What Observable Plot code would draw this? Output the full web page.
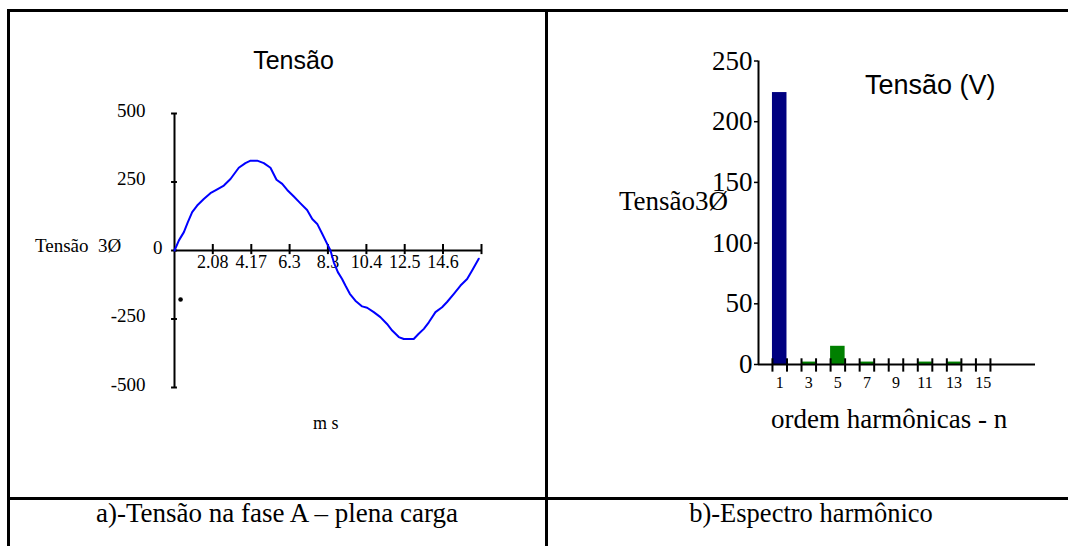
<!DOCTYPE html>
<html><head><meta charset="utf-8">
<script src="https://cdn.jsdelivr.net/npm/d3@7"></script>
<script src="https://cdn.jsdelivr.net/npm/@observablehq/plot@0.6"></script>
<style>
html,body{margin:0;padding:0;background:#fff;}
#page{position:relative;width:1068px;height:546px;overflow:hidden;background:#fff;}
.rule{position:absolute;background:#000;z-index:5;}
.lbl{position:absolute;white-space:pre;color:#000;z-index:6;}
</style></head><body><div id="page"></div>
<script>
// ---- (a) voltage waveform, phase A, full load ----
const timeMs = [0, 0.24, 0.51, 0.72, 0.96, 1.23, 1.59, 1.95, 2.32, 2.68, 3.04, 3.49, 3.85, 4.13, 4.49, 4.85, 5.21, 5.54, 5.85, 6.12, 6.48, 6.84, 7.20, 7.48, 7.75, 8.02, 8.29, 8.47, 8.65, 8.87, 9.10, 9.28, 9.52, 9.82, 10.19, 10.46, 10.82, 11.18, 11.54, 11.82, 12.18, 12.45, 12.99, 13.26, 13.54, 13.81, 14.17, 14.53, 14.80, 15.17, 15.53, 15.89, 16.16, 16.52];
const voltage = [0, 37, 67, 103, 140, 164, 188, 209, 223, 237, 261, 302, 319, 328, 328, 319, 302, 258, 243, 221, 197, 172, 148, 115, 97, 61, 24, 0, -43, -79, -104, -128, -158, -183, -204, -209, -225, -243, -268, -292, -316, -323, -323, -304, -286, -262, -225, -207, -188, -158, -128, -104, -73, -30];
const strayPointMs = [0.33];
const strayPointV = [-179];
const timeTicks = [2.08, 4.17, 6.25, 8.33, 10.42, 12.5, 14.58, 16.67];
const timeTickLabels = ["2.08", "4.17", "6.3", "8.3", "10.4", "12.5", "14.6", ""];
const voltageTicks = [500, 250, 0, -250, -500];

// ---- (b) harmonic spectrum ----
const harmonicOrder = [1, 3, 5, 7, 9, 11, 13, 15];
const harmonicVoltage = [224, 2, 15, 2, 0, 2, 2, 0];
const harmonicEdges = [0.5, 1.5, 2.5, 3.5, 4.5, 5.5, 6.5, 7.5, 8.5, 9.5, 10.5, 11.5, 12.5, 13.5, 14.5, 15.5];
const spectrumTicks = [0, 50, 100, 150, 200, 250];

const SERIF = "'Liberation Serif', 'Times New Roman', serif";
const SANS = "'Liberation Sans', Arial, sans-serif";
const page = document.getElementById("page");
const plain = d => String(d);

const wave = timeMs.map((t, i) => ({t, v: voltage[i]}));
const stray = strayPointMs.map((t, i) => ({t, v: strayPointV[i]}));

const left = Plot.plot({
  width: 546, height: 546,
  marginLeft: 174, marginRight: 65, marginTop: 113, marginBottom: 159,
  x: {domain: [0, 16.67], axis: null},
  y: {domain: [-500, 500]},
  style: {background: "transparent", fontFamily: SERIF, fontSize: "18px", color: "#000", overflow: "visible"},
  marks: [
    Plot.ruleX([0], {stroke: "#000", strokeWidth: 2}),
    Plot.ruleY([0], {stroke: "#000", strokeWidth: 2}),
    Plot.ruleY(voltageTicks, {x1: -0.16, x2: 0.16, stroke: "#000", strokeWidth: 2}),
    Plot.ruleX(timeTicks, {y1: -15, y2: 22, stroke: "#000", strokeWidth: 2}),
    Plot.axisY(voltageTicks.filter(v => v !== 0), {tickSize: 0, tickPadding: 29, fontSize: 19, dy: -3, label: null, tickFormat: plain}),
    Plot.axisY([0], {tickSize: 0, tickPadding: 12, fontSize: 19, dy: -3, label: null, tickFormat: plain}),
    Plot.text(timeTicks, {x: d => d, y: 0, text: (d, i) => timeTickLabels[i], lineAnchor: "bottom", dy: 17, fontSize: 18, fill: "#000"}),
    Plot.line(wave, {x: "t", y: "v", stroke: "#0000ff", strokeWidth: 2}),
    Plot.dot(stray, {x: "t", y: "v", r: 2.3, fill: "#000", stroke: "none"})
  ]
});
left.style.position = "absolute";
left.style.left = "0px";
left.style.top = "0px";
page.appendChild(left);

const spectrum = harmonicOrder.map((n, i) => ({n, v: harmonicVoltage[i]}));
const xDom = [-0.46, 18.6];
const right = Plot.plot({
  width: 520, height: 546,
  marginLeft: 210, marginRight: 33, marginTop: 60.5, marginBottom: 182,
  x: {domain: xDom},
  y: {domain: [0, 250]},
  style: {background: "transparent", fontFamily: SERIF, fontSize: "27px", color: "#000", overflow: "visible"},
  marks: [
    Plot.rect(spectrum.filter(d => d.n === 1), {x1: d => d.n - 0.5, x2: d => d.n + 0.5, y1: 0, y2: "v", fill: "#000080"}),
    Plot.rect(spectrum.filter(d => d.n !== 1), {x1: d => d.n - 0.5, x2: d => d.n + 0.5, y1: 0, y2: "v", fill: "#008000"}),
    Plot.ruleX([xDom[0]], {stroke: "#000", strokeWidth: 2}),
    Plot.ruleY([0], {stroke: "#000", strokeWidth: 2}),
    Plot.ruleX(harmonicEdges, {y1: -6.3, y2: 4.7, stroke: "#000", strokeWidth: 2}),
    Plot.axisY(spectrumTicks, {tickSize: 4, tickPadding: 2, fontSize: 27, label: null, strokeWidth: 1.5, tickFormat: plain}),
    Plot.axisX(harmonicOrder, {tickSize: 0, tickPadding: 12, fontSize: 16, label: null, tickFormat: plain})
  ]
});
right.style.position = "absolute";
right.style.left = "548px";
right.style.top = "0px";
page.appendChild(right);

// table borders
function rule(l, t, w, h) {
  const d = document.createElement("div");
  d.className = "rule";
  Object.assign(d.style, {left: l + "px", top: t + "px", width: w + "px", height: h + "px"});
  page.appendChild(d);
}
rule(7, 9, 1061, 3);
rule(7, 9, 3, 537);
rule(545, 9, 3, 537);
rule(7, 497, 1061, 3);

// free text
function label(text, x, baseline, size, family, anchor) {
  const d = document.createElement("div");
  d.className = "lbl";
  d.textContent = text;
  const k = family === SANS ? 0.8465 : 0.8375;
  Object.assign(d.style, {
    left: x + "px", top: (baseline - k * size) + "px",
    fontSize: size + "px", lineHeight: size + "px", fontFamily: family
  });
  if (anchor === "middle") d.style.transform = "translateX(-50%)";
  page.appendChild(d);
}
label("Tensão", 293.5, 69, 25, SANS, "middle");
label("Tensão  3Ø", 35, 252, 19, SERIF);
label("m s", 313, 429, 18, SERIF);
label("a)-Tensão na fase A – plena carga", 277, 523, 27, SERIF, "middle");
label("Tensão (V)", 865, 95, 27, SANS);
label("Tensão3Ø", 619, 211, 27, SERIF);
label("ordem harmônicas - n", 771, 429, 27, SERIF);
label("b)-Espectro harmônico", 811, 522, 26.5, SERIF, "middle");
</script></body></html>
